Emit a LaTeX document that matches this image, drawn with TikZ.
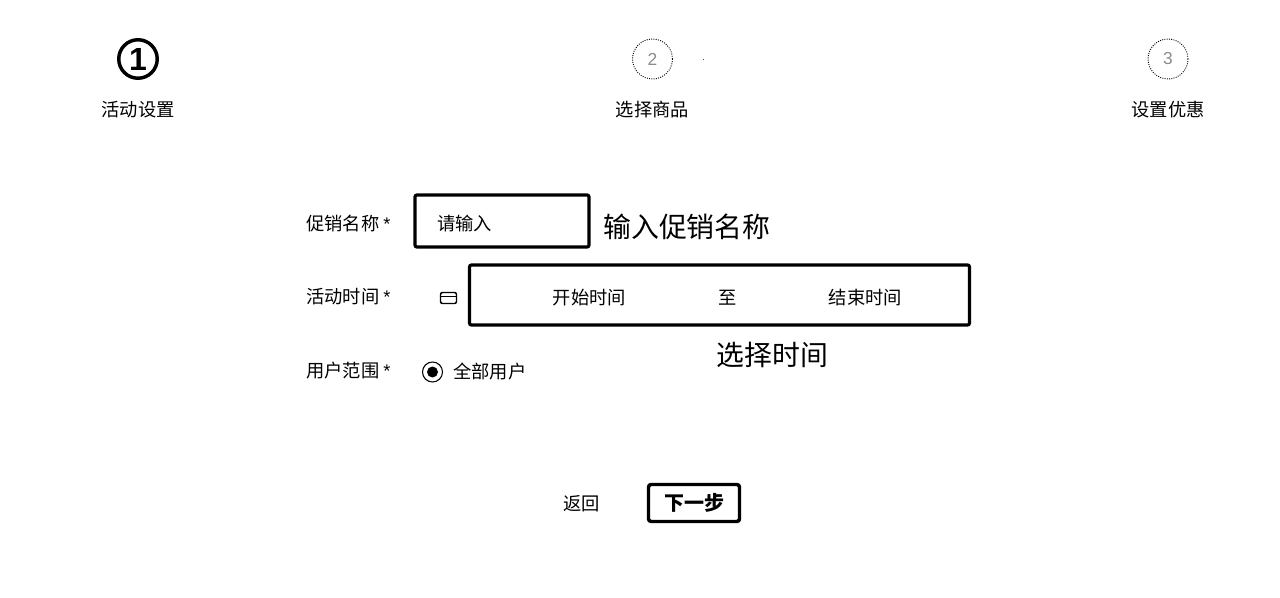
\documentclass[tikz,border=0pt]{standalone}
\usepackage{fontspec}
\setmainfont{Noto Sans CJK SC}
\newfontfamily\latinf{Liberation Sans}
\tikzset{
  lbl/.style={inner sep=0pt,font=\fontsize{13.7pt}{16pt}\selectfont,text=black},
  big/.style={inner sep=0pt,font=\fontsize{20.9pt}{24pt}\selectfont,text=black},
  field/.style={draw=black,line width=2.4pt,rounded corners=1.5pt,inner sep=0pt},
  stepdone/.style={circle,draw=black,line width=2.6pt,minimum size=38.5*0.75pt,inner sep=0pt,font=\latinf\bfseries\fontsize{24pt}{26pt}\selectfont},
  steptodo/.style={circle,draw=black,densely dotted,line width=0.7pt,minimum size=40*0.75pt,inner sep=0pt,font=\latinf\fontsize{13pt}{16pt}\selectfont,text=black!45},
}
\begin{document}
\begin{tikzpicture}[x=0.75pt,y=-0.75pt]
\useasboundingbox (0,0) rectangle (1280,598);
\fill[white] (0,0) rectangle (1280,598);
% steps
\node[stepdone] (s1) at (138,59) {1};
\node[steptodo] (s2) at (652.5,59) {2};
\node[steptodo] (s3) at (1168,59) {3};
\node[lbl] (t1) at (138,110) {活动设置};
\node[lbl] (t2) at (652.5,110) {选择商品};
\node[lbl] (t3) at (1168,110) {设置优惠};
\fill[black!70] (703.5,59.5) circle (0.6);
% row 1
\node[lbl,anchor=west] (l1) at (306,224) {促销名称 {\latinf *}};
\node[field,minimum width=174*0.75pt,minimum height=52*0.75pt] (f1) at (502,221) {};
\node[lbl,anchor=west] (p1) at (437,224) {请输入};
\node[big,anchor=west] (h1) at (603,227) {输入促销名称};
% row 2
\node[lbl,anchor=west] (l2) at (306,297) {活动时间 {\latinf *}};
\node[draw=black,line width=1.1pt,rounded corners=1.5pt,minimum width=16*0.75pt,minimum height=11*0.75pt,inner sep=0pt] (cal) at (448.5,298) {};
\draw[black,line width=1pt] (cal.west |- 0,296.5) -- (cal.east |- 0,296.5);
\node[field,minimum width=500*0.75pt,minimum height=60*0.75pt] (f2) at (719.5,295) {};
\node[lbl] (d1) at (589.5,298) {开始时间};
\node[lbl] (d2) at (728,298) {至};
\node[lbl] (d3) at (865.5,298) {结束时间};
\node[big] (h2) at (772.5,355) {选择时间};
% row 3
\node[lbl,anchor=west] (l3) at (306,371) {用户范围 {\latinf *}};
\node[circle,draw=black,line width=0.8pt,minimum size=20*0.75pt,inner sep=0pt] (r) at (432.5,372) {};
\fill[black] (r.center) circle (5.5);
\node[lbl,anchor=west] (o) at (453,372) {全部用户};
% buttons
\node[lbl] (back) at (581.5,504) {返回};
\node[field,line width=2.6pt,minimum width=91*0.75pt,minimum height=37*0.75pt,rounded corners=2pt] (next) at (694,503) {};
\node[lbl,font=\bfseries\fontsize{15pt}{18pt}\selectfont] (nt) at (694,503) {下一步};
\end{tikzpicture}
\end{document}
